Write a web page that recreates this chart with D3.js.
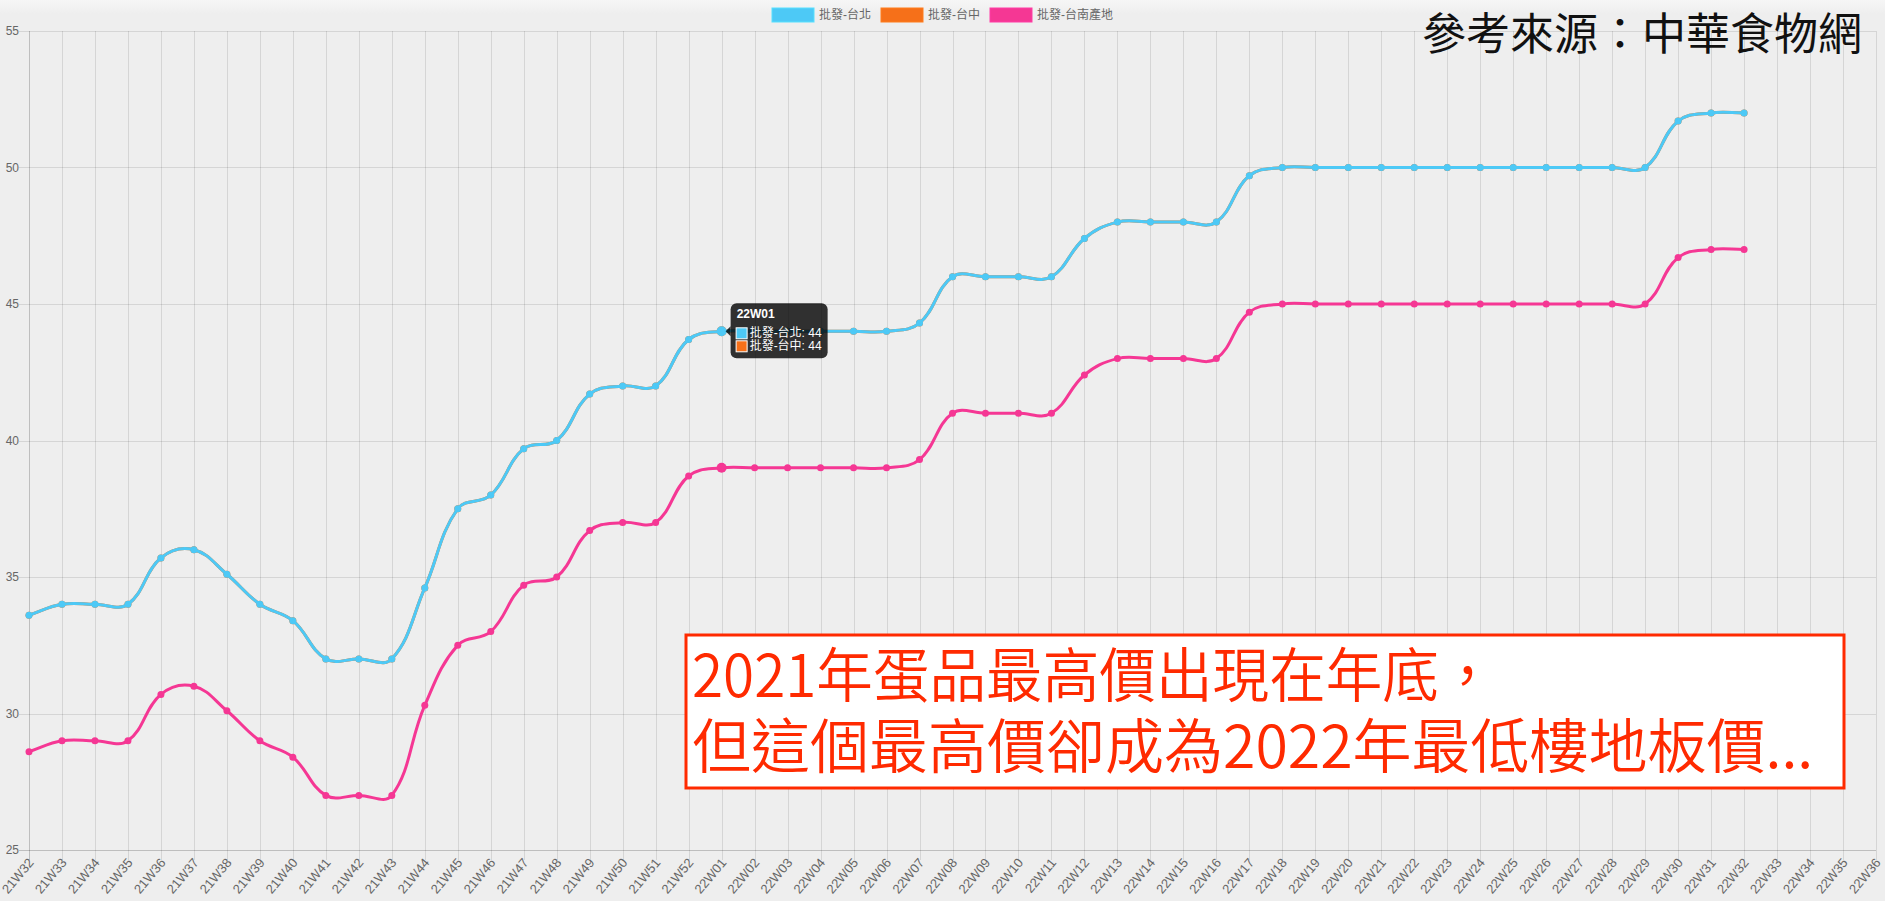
<!DOCTYPE html>
<html>
<head>
<meta charset="utf-8">
<script src="https://cdn.jsdelivr.net/npm/d3@7"></script>
<style>
  body { margin: 0; background: #eeeeee; overflow: hidden; }
  text { font-family: "Liberation Sans", Arial, "Noto Sans CJK TC", sans-serif; }
</style>
</head>
<body>
<div id="chart"></div>
<script>
// week labels on the x axis
const weeks = [
  "21W32","21W33","21W34","21W35","21W36","21W37","21W38","21W39","21W40","21W41",
  "21W42","21W43","21W44","21W45","21W46","21W47","21W48","21W49","21W50","21W51","21W52",
  "22W01","22W02","22W03","22W04","22W05","22W06","22W07","22W08","22W09","22W10",
  "22W11","22W12","22W13","22W14","22W15","22W16","22W17","22W18","22W19","22W20",
  "22W21","22W22","22W23","22W24","22W25","22W26","22W27","22W28","22W29","22W30",
  "22W31","22W32","22W33","22W34","22W35","22W36"
];

// wholesale prices per series (null = no data yet)
const taipei = [
  33.6, 34, 34, 34, 35.7, 36, 35.1, 34, 33.4, 32,
  32, 32, 34.6, 37.5, 38, 39.7, 40, 41.7, 42, 42, 43.7,
  44, 44, 44, 44, 44, 44, 44.3, 46, 46, 46,
  46, 47.4, 48, 48, 48, 48, 49.7, 50, 50, 50,
  50, 50, 50, 50, 50, 50, 50, 50, 50, 51.7,
  52, 52, null, null, null, null
];
// 台中 sits under 台北 (tooltip shows the same value)
const taichung = [
  33.6, 34, 34, 34, 35.7, 36, 35.1, 34, 33.4, 32,
  32, 32, 34.6, 37.5, 38, 39.7, 40, 41.7, 42, 42, 43.7,
  44, 44, 44, 44, 44, 44, 44.3, 46, 46, 46,
  46, 47.4, 48, 48, 48, 48, 49.7, 50, 50, 50,
  50, 50, 50, 50, 50, 50, 50, 50, 50, 51.7,
  52, 52, null, null, null, null
];
const tainan = [
  28.6, 29, 29, 29, 30.7, 31, 30.1, 29, 28.4, 27,
  27, 27, 30.3, 32.5, 33, 34.7, 35, 36.7, 37, 37, 38.7,
  39, 39, 39, 39, 39, 39, 39.3, 41, 41, 41,
  41, 42.4, 43, 43, 43, 43, 44.7, 45, 45, 45,
  45, 45, 45, 45, 45, 45, 45, 45, 45, 46.7,
  47, 47, null, null, null, null
];

const yTicks = [25, 30, 35, 40, 45, 50, 55];
const seriesNames = ["批發-台北", "批發-台中", "批發-台南產地"];
const seriesColors = ["#4dc9f6", "#f67019", "#f53794"];
const sourceText = "參考來源：中華食物網";
const noteLines = ["2021年蛋品最高價出現在年底，", "但這個最高價卻成為2022年最低樓地板價..."];
const hoverWeek = "22W01";

const width = 1885, height = 901;
const margin = { top: 31, right: 9, bottom: 51, left: 29 };

const svg = d3.select("#chart")
  .append("svg")
  .attr("width", width)
  .attr("height", height);

// background with the faint lighter band at the very top
const defs = svg.append("defs");
const grad = defs.append("linearGradient")
  .attr("id", "topband").attr("x1", 0).attr("x2", 0).attr("y1", 0).attr("y2", 1);
grad.append("stop").attr("offset", "0%").attr("stop-color", "#f6f6f6");
grad.append("stop").attr("offset", "100%").attr("stop-color", "#eeeeee");
svg.append("rect").attr("width", width).attr("height", height).attr("fill", "#eeeeee");
svg.append("rect").attr("width", width).attr("height", 14).attr("fill", "url(#topband)");

// scales
const x = d3.scalePoint()
  .domain(weeks)
  .range([margin.left, width - margin.right]);

const y = d3.scaleLinear()
  .domain([25, 55])
  .range([height - margin.bottom, margin.top]);

const plotLeft = x.range()[0], plotRight = x.range()[1];
const plotTop = y(55), plotBottom = y(25);
const tickLen = 10;

// grid lines (they run past the axes as tick marks, chart.js style)
svg.append("g")
  .selectAll("line")
  .data(yTicks)
  .join("line")
  .attr("x1", plotLeft - tickLen)
  .attr("x2", plotRight)
  .attr("y1", d => Math.round(y(d)) + 0.5)
  .attr("y2", d => Math.round(y(d)) + 0.5)
  .attr("stroke", d => d === 25 ? "rgba(0,0,0,0.2)" : "rgba(0,0,0,0.1)");

svg.append("g")
  .selectAll("line")
  .data(weeks)
  .join("line")
  .attr("x1", d => Math.round(x(d)) + 0.5)
  .attr("x2", d => Math.round(x(d)) + 0.5)
  .attr("y1", plotTop)
  .attr("y2", plotBottom + tickLen)
  .attr("stroke", (d, i) => i === 0 ? "rgba(0,0,0,0.2)" : "rgba(0,0,0,0.1)");

// y tick labels
svg.append("g")
  .selectAll("text")
  .data(yTicks)
  .join("text")
  .attr("x", plotLeft - tickLen)
  .attr("y", d => y(d))
  .attr("text-anchor", "end")
  .attr("dominant-baseline", "central")
  .style("font-size", "12px")
  .attr("fill", "#666")
  .text(d => d);

// x tick labels, rotated
svg.append("g")
  .selectAll("text")
  .data(weeks)
  .join("text")
  .attr("transform", d => `translate(${x(d) + 2},${plotBottom + tickLen})rotate(-50)`)
  .attr("text-anchor", "end")
  .attr("dominant-baseline", "central")
  .style("font-size", "13px")
  .attr("fill", "#666")
  .text(d => d);

// chart.js style bezier (tension 0.4) through the points
function splinePath(pts, t) {
  const cps = pts.map((p, i) => {
    const a = pts[i - 1] || p, b = pts[i + 1] || p;
    const d01 = Math.hypot(p[0] - a[0], p[1] - a[1]);
    const d12 = Math.hypot(b[0] - p[0], b[1] - p[1]);
    let s01 = d01 / (d01 + d12), s12 = d12 / (d01 + d12);
    if (isNaN(s01)) s01 = 0;
    if (isNaN(s12)) s12 = 0;
    const fa = t * s01, fb = t * s12;
    return {
      prev: [p[0] - fa * (b[0] - a[0]), p[1] - fa * (b[1] - a[1])],
      next: [p[0] + fb * (b[0] - a[0]), p[1] + fb * (b[1] - a[1])]
    };
  });
  const path = d3.path();
  path.moveTo(pts[0][0], pts[0][1]);
  for (let i = 1; i < pts.length; i++) {
    path.bezierCurveTo(cps[i - 1].next[0], cps[i - 1].next[1],
                       cps[i].prev[0], cps[i].prev[1],
                       pts[i][0], pts[i][1]);
  }
  return path.toString();
}

// draw datasets, last one first so 台北 ends up on top
const series = [taipei, taichung, tainan];
const hoverIdx = weeks.indexOf(hoverWeek);

[2, 1, 0].forEach(k => {
  const vals = series[k];
  const pts = weeks
    .map((w, i) => ({ w, v: vals[i], i }))
    .filter(d => d.v != null);
  const xy = pts.map(d => [x(d.w), y(d.v)]);

  svg.append("path")
    .attr("d", splinePath(xy, 0.4))
    .attr("fill", "none")
    .attr("stroke", seriesColors[k])
    .attr("stroke-width", 3);

  svg.append("g")
    .selectAll("circle")
    .data(pts)
    .join("circle")
    .attr("cx", d => x(d.w))
    .attr("cy", d => y(d.v))
    .attr("r", d => d.i === hoverIdx ? 5 : 3.5)
    .attr("fill", seriesColors[k]);
});

// legend, centred at the top
const legend = svg.append("g");
let lx = 0;
seriesNames.forEach((name, i) => {
  const g = legend.append("g");
  g.append("rect")
    .attr("x", 0).attr("y", 8)
    .attr("width", 42).attr("height", 14)
    .attr("fill", seriesColors[i])
    .attr("stroke", d3.color(seriesColors[i]).brighter(0.3))
    .attr("stroke-width", 1);
  const t = g.append("text")
    .attr("x", 47).attr("y", 15)
    .attr("dominant-baseline", "central")
    .style("font-size", "12px")
    .attr("fill", "#666")
    .text(name);
  const w = 47 + t.node().getComputedTextLength();
  g.attr("transform", `translate(${lx},0)`);
  lx += w + 10;
});
legend.attr("transform", `translate(${width / 2 - (lx - 10) / 2},0)`);

// source note top right
svg.append("text")
  .attr("x", 1862)
  .attr("y", 50)
  .attr("text-anchor", "end")
  .style("font-family", "'Noto Sans CJK TC', sans-serif")
  .style("font-size", "44px")
  .attr("fill", "#111")
  .text(sourceText);

// annotation box
const note = svg.append("g");
note.append("rect")
  .attr("x", 686).attr("y", 635)
  .attr("width", 1158).attr("height", 153)
  .attr("fill", "#ffffff")
  .attr("stroke", "#ff2a00")
  .attr("stroke-width", 3);
const noteText = note.selectAll("text")
  .data(noteLines)
  .join("text")
  .attr("x", 692)
  .attr("y", (d, i) => 697 + i * 71)
  .style("font-family", "'Noto Sans CJK TC', sans-serif")
  .style("font-size", "59px")
  .style("font-weight", 350)
  .attr("fill", "#ff2a00")
  .text(d => d);
// first line runs a little narrower in the original font
const first = noteText.nodes()[0];
first.setAttribute("textLength", first.getComputedTextLength() - 34);
first.setAttribute("lengthAdjust", "spacingAndGlyphs");

// hover tooltip at 22W01
const hx = x(hoverWeek), hy = y(taipei[hoverIdx]);
const tip = svg.append("g").attr("transform", `translate(${hx + 9},${hy - 28})`);
tip.append("path")
  .attr("d", "M0,23 L-5,28 L0,33 Z")
  .attr("fill", "rgba(0,0,0,0.8)");
tip.append("rect")
  .attr("width", 97).attr("height", 55)
  .attr("rx", 6)
  .attr("fill", "rgba(0,0,0,0.8)");
tip.append("text")
  .attr("x", 6).attr("y", 15)
  .style("font-size", "12px")
  .style("font-weight", "bold")
  .attr("fill", "#fff")
  .text(hoverWeek);
const tipRows = [
  { name: seriesNames[0], v: taipei[hoverIdx], c: seriesColors[0] },
  { name: seriesNames[1], v: taichung[hoverIdx], c: seriesColors[1] }
];
tipRows.forEach((r, i) => {
  tip.append("rect")
    .attr("x", 5.5).attr("y", 24.5 + i * 13)
    .attr("width", 11).attr("height", 11)
    .attr("fill", r.c)
    .attr("stroke", "#fff");
  tip.append("text")
    .attr("x", 19).attr("y", 34 + i * 13)
    .style("font-size", "12px")
    .attr("fill", "#fff")
    .text(`${r.name}: ${r.v}`);
});
</script>
</body>
</html>
